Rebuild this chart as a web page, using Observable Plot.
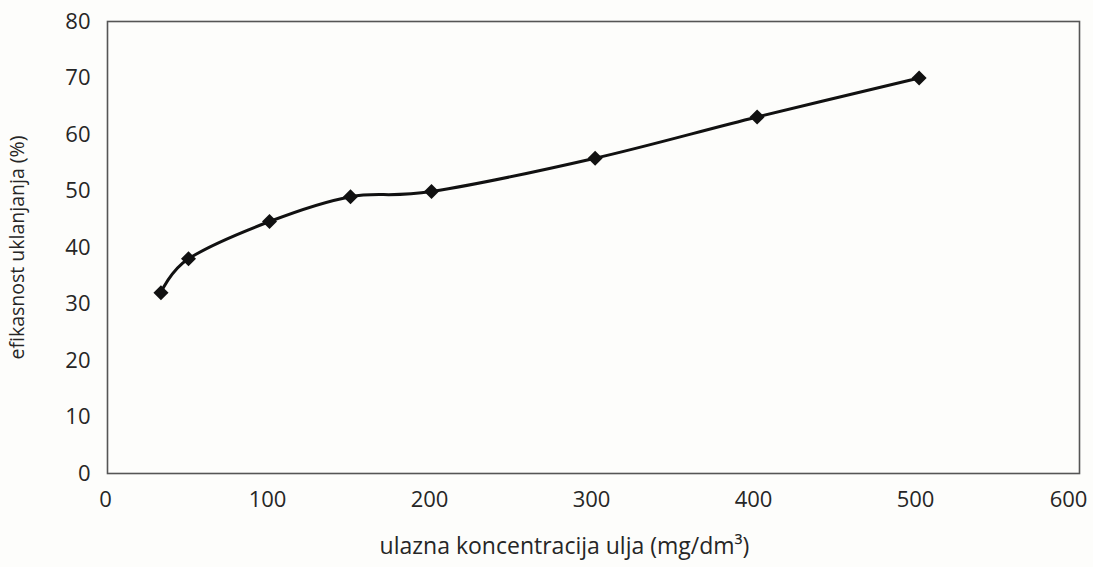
<!DOCTYPE html>
<html>
<head>
<meta charset="utf-8">
<script src="https://cdn.jsdelivr.net/npm/d3@7"></script>
<script src="https://cdn.jsdelivr.net/npm/@observablehq/plot@0.6"></script>
<style>
  html, body { margin: 0; padding: 0; background: #fdfdfb; }
  #chart svg { display: block; }
</style>
</head>
<body>
<div id="chart"></div>
<script>
const concentration = [33, 50, 100, 150, 200, 301, 401, 501];
const efficiency = [32, 38, 44.6, 49, 49.9, 55.8, 63.1, 70];
const xTicks = [0, 100, 200, 300, 400, 500];
const xLastTick = [600];
const yTicks = [0, 10, 20, 30, 40, 50, 60, 70, 80];
const xLabel = "ulazna koncentracija ulja (mg/dm³)";
const yLabel = "efikasnost uklanjanja (%)";

const data = concentration.map((c, i) => ({x: c, y: efficiency[i]}));

const chart = Plot.plot({
  width: 1093,
  height: 567,
  marginLeft: 107,
  marginTop: 21,
  marginRight: 14,
  marginBottom: 94,
  style: {background: "#fdfdfb", fontFamily: "'Open Sans', sans-serif", fontSize: "22px", color: "#262626"},
  x: {domain: [0, 600]},
  y: {domain: [0, 80]},
  marks: [
    Plot.axisX(xTicks, {tickSize: 0, tickPadding: 18, label: null, fontSize: 22, dx: -2}),
    Plot.axisX(xLastTick, {tickSize: 0, tickPadding: 18, label: null, fontSize: 22, dx: -11}),
    Plot.axisY(yTicks, {tickSize: 0, tickPadding: 17, fontSize: 22, label: yLabel, labelAnchor: "center", labelArrow: "none", labelOffset: 97}),
    Plot.frame({stroke: "#555", strokeWidth: 1.6}),
    Plot.line(data, {x: "x", y: "y", curve: "cardinal", stroke: "#111", strokeWidth: 3}),
    Plot.dot(data, {x: "x", y: "y", symbol: "square", rotate: 45, r: 6, fill: "#111", stroke: "none"}),
    Plot.text([xLabel], {frameAnchor: "bottom", text: d => d, dx: -29, dy: 80, fontSize: 23, fill: "#262626"})
  ]
});
// y-axis label font slightly smaller than tick labels
chart.querySelectorAll("[aria-label='y-axis label'] text").forEach(t => t.setAttribute("font-size", 19.5));
document.getElementById("chart").appendChild(chart);
</script>
</body>
</html>
